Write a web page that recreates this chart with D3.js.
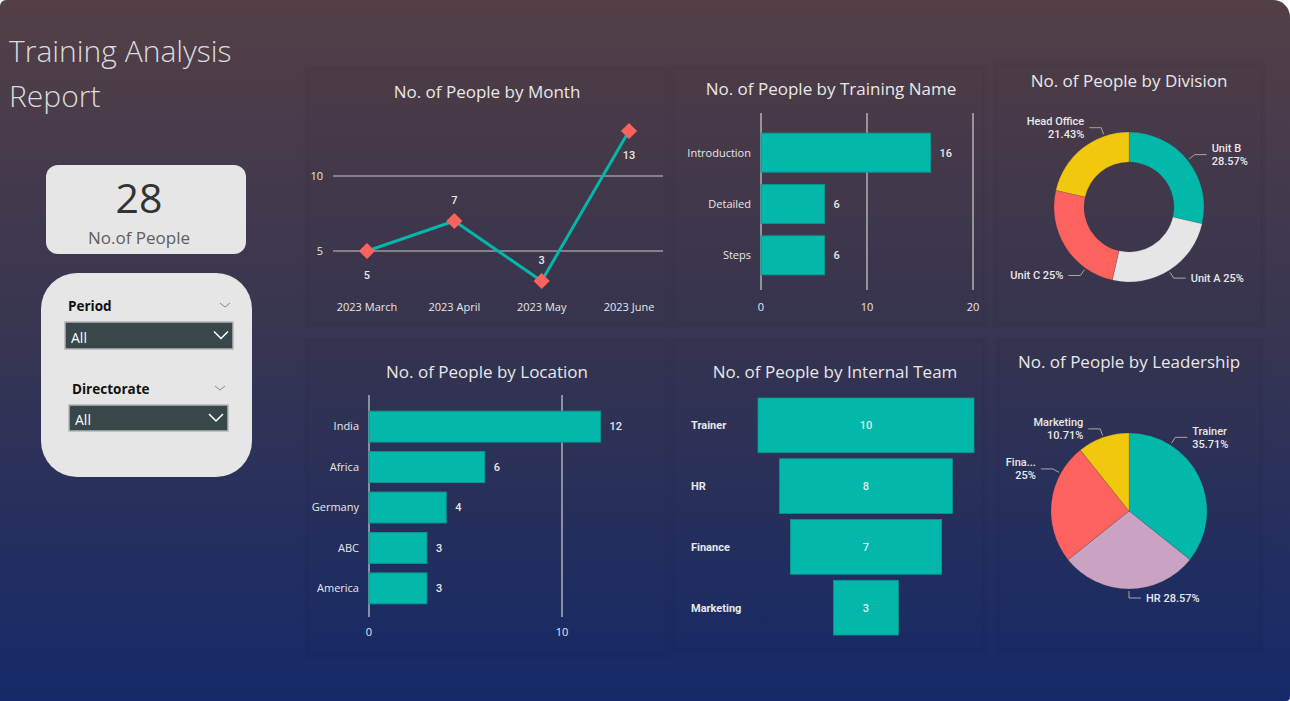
<!DOCTYPE html>
<html>
<head>
<meta charset="utf-8">
<script src="https://cdn.jsdelivr.net/npm/d3@7"></script>
<style>
html,body{margin:0;padding:0;background:#fff;}
svg{display:block;}
</style>
</head>
<body>
<svg id="chart" width="1290" height="701"></svg>
<script>
// ---------- DATA ----------
const months = ["2023 March", "2023 April", "2023 May", "2023 June"];
const monthValues = [5, 7, 3, 13];
const monthTicks = [5, 10];

const trainingNames = ["Introduction", "Detailed", "Steps"];
const trainingValues = [16, 6, 6];
const trainingTicks = [0, 10, 20];

const divisions = ["Unit B", "Unit A", "Unit C", "Head Office"];
const divisionValues = [8, 7, 7, 6];

const locations = ["India", "Africa", "Germany", "ABC", "America"];
const locationValues = [12, 6, 4, 3, 3];
const locationTicks = [0, 10];

const teams = ["Trainer", "HR", "Finance", "Marketing"];
const teamValues = [10, 8, 7, 3];

const leadership = ["Trainer", "HR", "Finance", "Marketing"];
const leadershipValues = [10, 8, 7, 3];

const totalPeople = 28;
const slicers = ["Period", "Directorate"];

// ---------- STYLE ----------
const TEAL = "#01b8aa", RED = "#fd625e", YELLOW = "#f2c80f", LIGHT = "#e6e6e6", LILAC = "#c9a3c1";
const TXT = "#e8e8e8";
const TITLE_FONT = "'Segoe UI','Open Sans',sans-serif";
const AX_FONT = "'Segoe UI','Open Sans',sans-serif";
const LBL_FONT = "'DIN','Roboto',sans-serif";

const svg = d3.select("#chart");
const defs = svg.append("defs");
const grad = defs.append("linearGradient").attr("id","bg").attr("x1",0).attr("y1",0).attr("x2",0).attr("y2",1);
grad.append("stop").attr("offset","0%").attr("stop-color","#533f46");
grad.append("stop").attr("offset","50%").attr("stop-color","#363552");
grad.append("stop").attr("offset","100%").attr("stop-color","#152a6a");

// background with uneven rounded corners
(function(){
  const W = 1290, H = 701, tl = 6, tr = 17, br = 4;
  const p = `M${tl},0 H${W-tr} A${tr},${tr} 0 0 1 ${W},${tr} V${H-br} A${br},${br} 0 0 1 ${W-br},${H} H0 V${tl} A${tl},${tl} 0 0 1 ${tl},0 Z`;
  svg.append("path").attr("d", p).attr("fill","url(#bg)");
})();

// panel shadows (very subtle)
const panels = [
  [306,68,362,258],[673,66,312,260],[995,63,268,262],
  [306,340,362,316],[673,340,312,312],[997,340,265,312]
];
panels.forEach(([x,y,w,h])=>{
  svg.append("rect").attr("x",x).attr("y",y).attr("width",w).attr("height",h)
    .attr("fill","rgba(0,0,0,0.02)").attr("stroke","rgba(0,0,0,0.025)").attr("stroke-width",6);
});

// ---------- Report title ----------
const tt = svg.append("text").attr("font-family",TITLE_FONT).attr("font-weight",300)
  .attr("font-size",30).attr("fill","#dcdcdc");
tt.append("tspan").attr("x",9).attr("y",62).text("Training Analysis");
tt.append("tspan").attr("x",9).attr("y",107).text("Report");

// ---------- KPI card ----------
svg.append("rect").attr("x",46).attr("y",165).attr("width",200).attr("height",89).attr("rx",12).attr("fill","#e6e6e6");
svg.append("text").attr("x",139).attr("y",213).attr("text-anchor","middle").attr("font-family",AX_FONT)
  .attr("font-size",41).attr("fill","#333").text(totalPeople);
svg.append("text").attr("x",139).attr("y",244).attr("text-anchor","middle").attr("font-family",AX_FONT)
  .attr("font-size",17).attr("fill","#605e5c").text("No.of People");

// ---------- Slicers ----------
svg.append("rect").attr("x",41).attr("y",273).attr("width",211).attr("height",204).attr("rx",36).attr("fill","#e6e6e6");
const slicerLayout = [{lx:68,ly:311,bx:65,by:322,bw:168,bh:27},{lx:72,ly:394,bx:69,by:405,bw:159,bh:26}];
slicers.forEach((name,i)=>{
  const L = slicerLayout[i];
  svg.append("text").attr("x",L.lx).attr("y",L.ly).attr("font-family",AX_FONT).attr("font-weight",700)
    .attr("font-size",13.5).attr("fill","#111").text(name);
  const cx = L.bx+L.bw-8;
  svg.append("path").attr("d",`M${cx-5},${L.ly-8} L${cx},${L.ly-4} L${cx+5},${L.ly-8}`)
    .attr("fill","none").attr("stroke","#888").attr("stroke-width",1);
  svg.append("rect").attr("x",L.bx).attr("y",L.by).attr("width",L.bw).attr("height",L.bh)
    .attr("fill","#37474a").attr("stroke","#b5b5b5").attr("stroke-width",1.5);
  svg.append("text").attr("x",L.bx+6).attr("y",L.by+L.bh-6).attr("font-family",AX_FONT)
    .attr("font-size",14).attr("fill","#fff").text("All");
  const ax = L.bx+L.bw-12, ay = L.by+L.bh/2;
  svg.append("path").attr("d",`M${ax-7},${ay-4} L${ax},${ay+3} L${ax+7},${ay-4}`)
    .attr("fill","none").attr("stroke","#fff").attr("stroke-width",1.5);
});

function chartTitle(x,y,t){
  svg.append("text").attr("x",x).attr("y",y).attr("text-anchor","middle").attr("font-family",TITLE_FONT)
    .attr("font-size",17).attr("fill",TXT).text(t);
}

// ---------- Line chart: by Month ----------
(function(){
  chartTitle(487,98,"No. of People by Month");
  const x = d3.scalePoint().domain(months).range([367,629]);
  const y = d3.scaleLinear().domain([0,15]).range([326,101]);
  const g = svg.append("g");
  monthTicks.forEach(t=>{
    g.append("line").attr("x1",333).attr("x2",663).attr("y1",y(t)).attr("y2",y(t))
      .attr("stroke","#c8c8c8").attr("stroke-width",1.2);
    g.append("text").attr("x",323).attr("y",y(t)).attr("dy","0.35em").attr("text-anchor","end")
      .attr("font-family",AX_FONT).attr("font-size",11).attr("fill",TXT).text(t);
  });
  months.forEach(m=>{
    g.append("text").attr("x",x(m)).attr("y",311).attr("text-anchor","middle")
      .attr("font-family",AX_FONT).attr("font-size",11).attr("fill",TXT).text(m);
  });
  const line = d3.line().x((d,i)=>x(months[i])).y(d=>y(d));
  g.append("path").datum(monthValues).attr("d",line).attr("fill","none").attr("stroke",TEAL).attr("stroke-width",3);
  const sym = d3.symbol().type(d3.symbolSquare).size(130);
  monthValues.forEach((v,i)=>{
    g.append("path").attr("d",sym()).attr("fill",RED)
      .attr("transform",`translate(${x(months[i])},${y(v)}) rotate(45)`);
    const below = (i===0 || i===months.length-1);
    g.append("text").attr("x",x(months[i])).attr("y",y(v)+(below?24:-21)).attr("dy","0.35em")
      .attr("text-anchor","middle").attr("font-family",LBL_FONT).attr("font-weight",500)
      .attr("font-size",11).attr("fill",TXT).text(v);
  });
})();

// ---------- horizontal bar helper ----------
function hbar(cfg){
  const {names, values, ticks, xr, yr, domain, pin, pout, gridY, labelX, tickY} = cfg;
  const x = d3.scaleLinear().domain(domain).range(xr);
  const y = d3.scaleBand().domain(names).range(yr).paddingInner(pin).paddingOuter(pout);
  const g = svg.append("g");
  ticks.forEach(t=>{
    g.append("line").attr("x1",x(t)).attr("x2",x(t)).attr("y1",gridY[0]).attr("y2",gridY[1])
      .attr("stroke","#d0d0d0").attr("stroke-width",1.2);
    g.append("text").attr("x",x(t)).attr("y",tickY).attr("text-anchor","middle")
      .attr("font-family",AX_FONT).attr("font-size",11).attr("fill",TXT).text(t);
  });
  names.forEach((n,i)=>{
    g.append("rect").attr("x",x(0)).attr("y",y(n)).attr("width",x(values[i])-x(0)).attr("height",y.bandwidth())
      .attr("fill",TEAL).attr("stroke","#0b978d").attr("stroke-width",1);
    g.append("text").attr("x",labelX).attr("y",y(n)+y.bandwidth()/2).attr("dy","0.35em").attr("text-anchor","end")
      .attr("font-family",AX_FONT).attr("font-size",11).attr("fill",TXT).text(n);
    g.append("text").attr("x",x(values[i])+9).attr("y",y(n)+y.bandwidth()/2).attr("dy","0.35em")
      .attr("font-family",LBL_FONT).attr("font-weight",500).attr("font-size",11).attr("fill",TXT).text(values[i]);
  });
}

chartTitle(831,95,"No. of People by Training Name");
hbar({names:trainingNames, values:trainingValues, ticks:trainingTicks, domain:[0,20], xr:[761,973],
  yr:[127,281], pin:0.24, pout:0.12, gridY:[113,290], labelX:751, tickY:311});

chartTitle(487,378,"No. of People by Location");
hbar({names:locations, values:locationValues, ticks:locationTicks, domain:[0,10], xr:[369,562],
  yr:[395,620], pin:0.235, pout:0.4, gridY:[395,617], labelX:359, tickY:636});

// ---------- Funnel: Internal Team ----------
(function(){
  chartTitle(835,378,"No. of People by Internal Team");
  const cx = 866;
  const w = d3.scaleLinear().domain([0,10]).range([0,216]);
  const y = d3.scaleBand().domain(teams).range([398,635]).paddingInner(0.1).paddingOuter(0);
  const g = svg.append("g");
  teams.forEach((t,i)=>{
    g.append("rect").attr("x",cx-w(teamValues[i])/2).attr("y",y(t)).attr("width",w(teamValues[i])).attr("height",y.bandwidth())
      .attr("fill",TEAL).attr("stroke","#0b978d").attr("stroke-width",0.8);
    g.append("text").attr("x",cx).attr("y",y(t)+y.bandwidth()/2).attr("dy","0.35em").attr("text-anchor","middle")
      .attr("font-family",LBL_FONT).attr("font-weight",500).attr("font-size",11).attr("fill",TXT).text(teamValues[i]);
    g.append("text").attr("x",691).attr("y",y(t)+y.bandwidth()/2).attr("dy","0.35em")
      .attr("font-family",LBL_FONT).attr("font-weight",700).attr("font-size",11).attr("fill",TXT).text(t);
  });
})();

// ---------- Pie/Donut helper ----------
function pieChart(cfg){
  const {names, values, colors, cx, cy, r, ir, anchorFrac, panelLeft} = cfg;
  const total = d3.sum(values);
  const pie = d3.pie().sort(null).value(d=>d)(values);
  const arc = d3.arc().innerRadius(ir).outerRadius(r);
  const g = svg.append("g").attr("transform",`translate(${cx},${cy})`);
  g.selectAll("path.s").data(pie).join("path").attr("class","s").attr("d",arc)
    .attr("fill",(d,i)=>colors[i]).attr("stroke","rgba(60,60,80,0.35)").attr("stroke-width",0.5);
  const fmt = v=>{ const p = v/total*100; return (Math.round(p*100)/100).toString()+"%"; };
  pie.forEach((d,i)=>{
    const a = d.startAngle + (d.endAngle-d.startAngle)*anchorFrac[i];
    const sx = Math.sin(a), sy = -Math.cos(a);
    const p1 = [sx*(r+2), sy*(r+2)];
    const p2 = [sx*(r+9), sy*(r+9)];
    const right = sx >= 0;
    const p3 = [p2[0] + (right?12:-12), p2[1]];
    g.append("polyline").attr("points",[p1,p2,p3].map(p=>p.join(",")).join(" "))
      .attr("fill","none").attr("stroke","#a8a8a8").attr("stroke-width",1);
    const tx = p3[0] + (right?5:-5);
    const anchor = right?"start":"end";
    const t = g.append("text").attr("text-anchor",anchor).attr("font-family",LBL_FONT).attr("font-weight",500)
      .attr("font-size",11).attr("fill",TXT);
    const pct = fmt(values[i]);
    if (p3[1] > 0) {
      t.append("tspan").attr("x",tx).attr("y",p3[1]).attr("dy","0.35em").text(names[i]+" "+pct);
    } else {
      const nameSpan = t.append("tspan").attr("x",tx).attr("y",p3[1]-6.5).attr("dy","0.35em").text(names[i]);
      if (!right) {
        const avail = (cx + tx) - panelLeft;
        let s = names[i];
        while (nameSpan.node().getComputedTextLength() > avail && s.length > 1) {
          s = s.slice(0,-1); nameSpan.text(s + "...");
        }
      }
      t.append("tspan").attr("x",tx).attr("y",p3[1]+6.5).attr("dy","0.35em").text(pct);
    }
  });
}

chartTitle(1129,87,"No. of People by Division");
pieChart({names:divisions, values:divisionValues, colors:[TEAL,LIGHT,RED,YELLOW], cx:1129, cy:207, r:75, ir:45,
  anchorFrac:[0.5,0.5,0.25,0.75], panelLeft:1000});

chartTitle(1129,368,"No. of People by Leadership");
pieChart({names:leadership, values:leadershipValues, colors:[TEAL,LILAC,RED,YELLOW], cx:1129, cy:511, r:78, ir:0,
  anchorFrac:[0.25,0.5,0.75,0.5], panelLeft:1005});
</script>
</body>
</html>
